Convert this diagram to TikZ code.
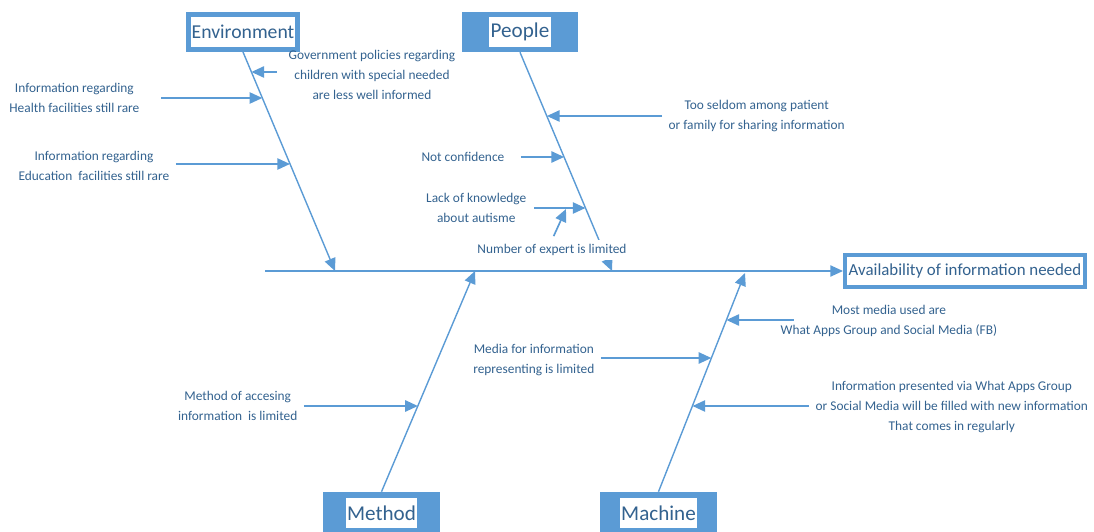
\documentclass[tikz,border=0pt]{standalone}
\usepackage{fontspec}
\setmainfont{Carlito}
\usepackage{xcolor}
\usetikzlibrary{arrows.meta,positioning,calc}
\definecolor{fishblue}{HTML}{5B9BD5}
\definecolor{fishtext}{HTML}{33628F}
\tikzset{
  bonearrow/.style={draw=fishblue,line width=1pt,-{Triangle[length=9pt,width=8pt]}},
  cause/.style={bonearrow,line width=1.2pt},
  note/.style={text=fishtext,font=\fontsize{9.5}{14.2}\selectfont,align=center,inner sep=1pt},
  catbox/.style={fill=fishblue,minimum width=2.9cm,minimum height=1cm,inner sep=0pt},
  cattext/.style={fill=white,text=fishtext,font=\fontsize{15}{17}\selectfont,minimum height=0.75cm,inner xsep=1pt,inner ysep=0pt},
  framebox/.style={draw=fishblue,fill=white,text=fishtext,inner sep=0pt}
}

\begin{document}
\begin{tikzpicture}[x=0.025cm,y=-0.025cm]
  \useasboundingbox (0,0) rectangle (1094,532);

  \node[framebox,line width=3.5pt,minimum width=2.72cm,minimum height=0.875cm,
        font=\fontsize{14}{16}\selectfont] (env) at (243,32) {Environment};
  \node[catbox] (ppl) at (520,32) {};
  \node[cattext] (ppltxt) at (ppl) {People};
  \node[catbox,minimum height=1.05cm] (mth) at (381.5,513) {};
  \node[cattext] (mthtxt) at (381.5,513) {Method};
  \node[catbox,minimum height=1.05cm] (mch) at (658.5,513) {};
  \node[cattext] (mchtxt) at (658.5,513) {Machine};
  \node[framebox,line width=2.8pt,minimum width=6cm,minimum height=0.8cm,
        font=\fontsize{12}{14}\selectfont] (effect) at (965,271) {Availability of information needed};

  \coordinate (spine0) at (265,271);
  \coordinate (envtip) at (335,271);
  \coordinate (ppltip) at (612,271);
  \coordinate (mthtip) at (475,271);
  \coordinate (mchtip) at (745,273);

  \draw[bonearrow] (spine0) -- (effect.west);
  \draw[bonearrow] (env.south) -- (envtip);
  \draw[bonearrow] (ppl.south) -- (ppltip);
  \draw[bonearrow] (mth.north) -- (mthtip);
  \draw[bonearrow] (mch.north) -- (mchtip);

  \node[note,anchor=west] (gov) at (287,75) {Government policies regarding\\children with special needed\\are less well informed};
  \node[note,anchor=east] (health) at (141,98) {Information regarding\\Health facilities still rare};
  \node[note,anchor=east] (edu) at (171,166) {Information regarding\\Education\ \ facilities still rare};
  \node[note,anchor=west] (seldom) at (667,116) {Too seldom among patient\\or family for sharing information};
  \node[note,anchor=east] (notconf) at (506,157) {Not confidence};
  \node[note,anchor=east] (lack) at (528,208) {Lack of knowledge\\about autisme};
  \node[note,fill=white,inner sep=3pt] (expert) at (552,250) {Number of expert is limited};
  \node[note,anchor=east] (access) at (299,406) {Method of accesing\\information\ \ is limited};
  \node[note,anchor=east] (mediarep) at (596,360) {Media for information\\representing is limited};
  \node[note,anchor=west] (mostmedia) at (779,321) {Most media used are\\What Apps Group and Social Media (FB)};
  \node[note,anchor=west] (presented) at (814,407) {Information presented via What Apps Group\\or Social Media will be filled with new information\\That comes in regularly};

  \coordinate (gov1) at (251.4,72);
  \coordinate (health1) at (262.3,98);
  \coordinate (edu1) at (290,164);
  \coordinate (seldom1) at (546.9,116);
  \coordinate (notconf1) at (564.1,157);
  \coordinate (lack1) at (585.5,208);
  \coordinate (expert1) at (566,209);
  \coordinate (access1) at (417.9,406);
  \coordinate (mediarep1) at (711.4,358);
  \coordinate (mostmedia1) at (726.4,320);
  \coordinate (presented1) at (692.5,406);

  \draw[cause,shorten <=0.25cm] (gov.west |- gov1) -- (gov1);
  \draw[cause,shorten <=0.5cm] (health.east |- health1) -- (health1);
  \draw[cause,shorten <=0.12cm] (edu.east |- edu1) -- (edu1);
  \draw[cause,shorten <=0.12cm] (seldom.west |- seldom1) -- (seldom1);
  \draw[cause,shorten <=0.37cm] (notconf.east |- notconf1) -- (notconf1);
  \draw[cause,shorten <=0.15cm] (lack.east |- lack1) -- (lack1);
  \draw[cause,shorten <=0.1cm] (expert.north) -- (expert1);
  \draw[cause,shorten <=0.12cm] (access.east |- access1) -- (access1);
  \draw[cause,shorten <=0.12cm] (mediarep.east |- mediarep1) -- (mediarep1);
  \draw[cause,shorten <=-0.37cm] (mostmedia.west |- mostmedia1) -- (mostmedia1);
  \draw[cause,shorten <=0.12cm] (presented.west |- presented1) -- (presented1);
\end{tikzpicture}
\end{document}
